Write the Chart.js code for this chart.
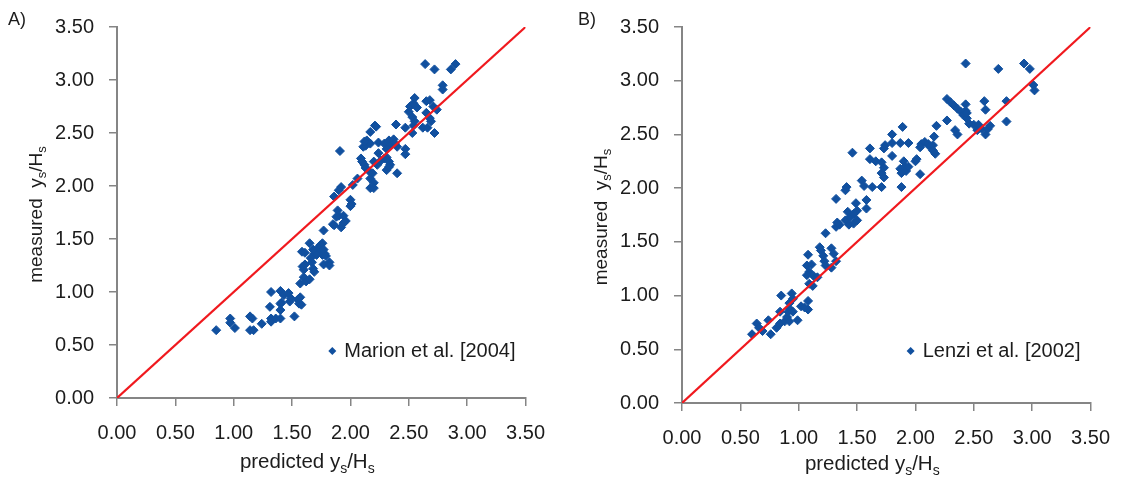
<!DOCTYPE html>
<html>
<head>
<meta charset="utf-8">
<script src="https://cdn.jsdelivr.net/npm/chart.js@4.4.1/dist/chart.umd.min.js"></script>
<style>
  body { margin: 0; background: #fff; }
  .panel { position: absolute; top: 0; }
</style>
</head>
<body>
<div class="panel" style="left:0"><canvas id="chartA" width="560" height="477"></canvas></div>
<div class="panel" style="left:560px"><canvas id="chartB" width="565" height="477"></canvas></div>
<script>
// axis ticks shared by both panels
const tickValues = [0, 0.5, 1, 1.5, 2, 2.5, 3, 3.5];

// 1:1 line
const lineX = [0, 3.5];
const lineY = [0, 3.5];

// A) Marion et al. [2004] - predicted / measured ys/Hs
const marionPred = [
  0.85, 0.97, 0.97, 1.01, 1.14, 1.16, 1.14, 1.17, 1.24, 1.32, 1.31, 1.32, 1.32, 1.36,
  1.40, 1.40, 1.40, 1.40, 1.41, 1.43, 1.47, 1.48, 1.49, 1.52, 1.55, 1.56, 1.57, 1.58,
  1.57, 1.585, 1.59, 1.60, 1.61, 1.60, 1.62, 1.65, 1.65, 1.66, 1.67, 1.68, 1.69, 1.69,
  1.72, 1.74, 1.75, 1.76, 1.77, 1.78, 1.76, 1.61, 1.68, 1.71, 1.77, 1.79, 1.82, 1.82,
  1.77, 1.89, 1.90, 1.94, 1.96, 1.88, 1.85, 1.86, 1.92, 1.94,
  2.00, 2.01, 2.00, 1.86, 1.92, 1.90, 2.02, 2.06, 1.91,
  2.09, 2.10, 2.12, 2.13, 2.16, 2.19, 2.17, 2.20, 2.17, 2.20,
  2.24, 2.20, 2.23, 2.26, 2.29, 2.31, 2.33, 2.34, 2.31, 2.33, 2.40,
  2.21, 2.17, 2.14, 2.13, 2.11, 2.17, 2.24, 2.29, 2.33, 2.37, 2.38, 2.34, 2.31, 2.40,
  2.47, 2.47, 2.39, 2.22, 2.12,
  2.47, 2.53, 2.54, 2.55, 2.53, 2.50, 2.51, 2.54, 2.55, 2.57,
  2.65, 2.68, 2.71, 2.74, 2.65, 2.68, 2.69, 2.62, 2.66, 2.72,
  2.79, 2.79, 2.64, 2.72, 2.86, 2.90
];
const marionMeas = [
  0.64, 0.75, 0.71, 0.66, 0.77, 0.75, 0.64, 0.64, 0.70, 1.00, 0.86, 0.75, 0.72, 0.75,
  1.01, 0.89, 0.83, 0.75, 0.90, 0.97, 0.99, 0.91, 0.94, 0.77, 0.93, 0.89, 0.95, 0.88,
  1.08, 1.38, 1.24, 1.21, 1.26, 1.14, 1.10, 1.46, 1.12, 1.32, 1.28, 1.22, 1.19, 1.36,
  1.41, 1.44, 1.38, 1.35, 1.26, 1.36, 1.46, 1.37, 1.40, 1.35, 1.40, 1.34, 1.28, 1.25,
  1.58, 1.77, 1.72, 1.72, 1.67, 1.71, 1.64, 1.63, 1.61, 1.65,
  1.87, 1.83, 1.81, 1.90, 1.99, 1.96, 2.01, 2.07, 2.33,
  2.26, 2.23, 2.20, 2.17, 2.14, 2.12, 2.07, 2.03, 1.98, 1.98,
  2.31, 2.23, 2.20, 2.24, 2.26, 2.27, 2.23, 2.20, 2.15, 2.18, 2.12,
  2.57, 2.51, 2.43, 2.38, 2.37, 2.40, 2.41, 2.40, 2.43, 2.44, 2.40, 2.38, 2.35, 2.37,
  2.35, 2.30, 2.58, 2.56, 2.42,
  2.55, 2.50, 2.57, 2.61, 2.65, 2.70, 2.75, 2.78, 2.83, 2.74,
  2.80, 2.81, 2.75, 2.72, 2.69, 2.64, 2.61, 2.55, 2.55, 2.50,
  2.95, 2.91, 3.15, 3.10, 3.10, 3.15
];

// B) Lenzi et al. [2002]
const lenziPred = [
  0.60, 0.64, 0.66, 0.69, 0.76, 0.74, 0.81, 0.84, 0.85, 0.84, 0.88, 0.90, 0.91, 0.92,
  0.94, 0.95, 0.92, 0.92, 0.95, 0.99, 1.02, 1.08, 1.08, 1.05, 1.08, 1.07, 1.09, 1.07,
  1.11, 1.09, 1.12, 1.13, 1.16, 1.18, 1.19, 1.21, 1.22, 1.23, 1.28, 1.30, 1.32, 1.28,
  1.23, 1.32, 1.35, 1.33, 1.40, 1.43, 1.42, 1.44, 1.47, 1.49, 1.50, 1.47, 1.50, 1.58,
  1.58, 1.32, 1.41, 1.40, 1.46, 1.54, 1.56, 1.61, 1.61, 1.66, 1.71, 1.73, 1.71, 1.73,
  1.71, 1.63, 1.74, 1.73, 1.80, 1.80, 1.87, 1.89, 1.94, 1.80, 1.90, 1.91, 1.92, 1.87,
  1.88, 1.94, 1.88, 2.00, 2.01, 2.04, 2.05, 2.08, 2.11, 2.04, 2.12, 2.15, 2.16, 2.18,
  2.15, 2.17, 2.27, 2.27, 2.30, 2.33, 2.36, 2.39, 2.41, 2.44, 2.43, 2.43, 2.44, 2.46,
  2.50, 2.53, 2.34, 2.36, 2.54, 2.57, 2.60, 2.62, 2.64, 2.59, 2.60, 2.78, 2.78, 2.43,
  2.71, 2.93, 2.98, 3.01, 3.02
];
const lenziMeas = [
  0.64, 0.74, 0.70, 0.67, 0.64, 0.77, 0.70, 0.74, 1.00, 0.85, 0.76, 0.80, 0.85, 0.76,
  1.02, 0.97, 0.93, 0.88, 0.85, 0.77, 0.90, 0.95, 0.87, 0.89, 1.38, 1.28, 1.22, 1.19,
  1.29, 1.11, 1.09, 1.18, 1.17, 1.45, 1.42, 1.37, 1.32, 1.28, 1.44, 1.39, 1.32, 1.26,
  1.58, 1.64, 1.66, 1.68, 1.70, 1.66, 1.78, 1.73, 1.67, 1.86, 1.79, 1.76, 1.70, 1.89,
  1.81, 1.90, 2.01, 1.98, 2.33, 2.07, 2.02, 2.37, 2.27, 2.25, 2.24, 2.19, 2.14, 2.10,
  2.01, 2.01, 2.40, 2.37, 2.42, 2.50, 2.42, 2.57, 2.42, 2.30, 2.25, 2.20, 2.16, 2.18,
  2.14, 2.20, 2.01, 2.25, 2.27, 2.13, 2.41, 2.43, 2.41, 2.38, 2.39, 2.40, 2.48, 2.58,
  2.35, 2.32, 2.63, 2.83, 2.80, 2.77, 2.74, 2.71, 2.68, 2.65, 2.78, 2.72, 2.70, 2.60,
  2.59, 2.54, 2.54, 2.50, 2.59, 2.55, 2.50, 2.55, 2.58, 2.81, 2.73, 2.81, 2.62, 3.16,
  3.11, 3.16, 3.11, 2.96, 2.91
];

const FONT = "'Liberation Sans', Arial, Helvetica, sans-serif";
const INK = '#1c1c1c';
const AXIS = '#858585';
const BLUE = '#11509f';
const RED = '#f0191e';

const toPoints = (xs, ys) => xs.map((x, i) => ({ x: x, y: ys[i] }));

// draws "text + subscript" pieces centred on (cx, cy), optionally rotated
function drawRich(ctx, parts, cx, cy, rot, size) {
  const subSize = Math.round(size * 0.68);
  let w = 0;
  parts.forEach(p => {
    ctx.font = (p.sub ? subSize : size) + 'px ' + FONT;
    p.w = ctx.measureText(p.t).width;
    w += p.w;
  });
  ctx.save();
  ctx.translate(cx, cy);
  ctx.rotate(rot);
  ctx.textAlign = 'left';
  ctx.textBaseline = 'alphabetic';
  let x = -w / 2;
  const base = size * 0.36;
  parts.forEach(p => {
    ctx.font = (p.sub ? subSize : size) + 'px ' + FONT;
    ctx.fillText(p.t, x, base + (p.sub ? size * 0.22 : 0));
    x += p.w;
  });
  ctx.restore();
}

const xTitle = [{ t: 'predicted y' }, { t: 's', sub: true }, { t: '/H' }, { t: 's', sub: true }];
const yTitle = [{ t: 'measured  y' }, { t: 's', sub: true }, { t: '/H' }, { t: 's', sub: true }];

const decorations = {
  id: 'decorations',
  afterDraw(chart, args, opts) {
    const { ctx, chartArea } = chart;
    ctx.save();
    ctx.fillStyle = INK;
    // panel letter
    ctx.font = '18px ' + FONT;
    ctx.textAlign = 'left';
    ctx.textBaseline = 'middle';
    ctx.fillText(opts.letter, opts.letterX, 20);
    // axis titles
    drawRich(ctx, xTitle, (chartArea.left + chartArea.right) / 2 - 14, Math.min(chartArea.bottom + 63, 463), 0, 20.5);
    drawRich(ctx, yTitle, chartArea.left - 82, (chartArea.top + chartArea.bottom) / 2 + 2, -Math.PI / 2, 19);
    // legend inside the plot
    const label = chart.data.datasets[1].label;
    ctx.font = '20px ' + FONT;
    const tw = ctx.measureText(label).width;
    const tx = chartArea.right - 10 - tw;
    const ty = 351;
    ctx.fillText(label, tx, ty);
    const mx = tx - 12, r = 4;
    ctx.fillStyle = BLUE;
    ctx.beginPath();
    ctx.moveTo(mx - r, ty);
    ctx.lineTo(mx, ty - r);
    ctx.lineTo(mx + r, ty);
    ctx.lineTo(mx, ty + r);
    ctx.closePath();
    ctx.fill();
    ctx.restore();
  }
};

function axisOptions(fit) {
  return {
    type: 'linear',
    min: 0,
    max: 3.5,
    afterBuildTicks: s => { s.ticks = tickValues.map(v => ({ value: v })); },
    afterFit: fit,
    grid: {
      display: true,
      drawOnChartArea: false,
      drawTicks: true,
      tickLength: 8,
      color: AXIS,
      lineWidth: 1.5
    },
    border: { display: true, color: AXIS, width: 2 },
    ticks: {
      padding: 15,
      color: INK,
      font: { family: FONT, size: 20 },
      callback: v => Number(v).toFixed(2)
    }
  };
}

function makePanel(id, box, letter, letterX, label, xs, ys) {
  new Chart(document.getElementById(id), {
    type: 'scatter',
    data: {
      datasets: [{
        label: '1:1',
        data: toPoints(lineX, lineY),
        showLine: true,
        borderColor: RED,
        borderWidth: 2.2,
        pointRadius: 0,
        order: 0
      }, {
        label: label,
        data: toPoints(xs, ys),
        pointStyle: 'rectRot',
        pointRadius: 4.5,
        borderWidth: 1,
        backgroundColor: BLUE,
        borderColor: BLUE,
        order: 1
      }]
    },
    options: {
      responsive: false,
      animation: false,
      layout: { padding: { top: box.top, right: box.width - box.right, left: 0, bottom: 0 } },
      plugins: {
        legend: { display: false },
        tooltip: { enabled: false },
        decorations: { letter: letter, letterX: letterX }
      },
      scales: {
        x: axisOptions(s => { s.height = 477 - box.bottom; }),
        y: axisOptions(s => { s.width = box.left; })
      }
    },
    plugins: [decorations]
  });
}

makePanel('chartA', { width: 560, left: 117, right: 530, top: 19, bottom: 398 },
  'A)', 8, 'Marion et al. [2004]', marionPred, marionMeas);
makePanel('chartB', { width: 565, left: 122, right: 537, top: 19, bottom: 403 },
  'B)', 18, 'Lenzi et al. [2002]', lenziPred, lenziMeas);
</script>
</body>
</html>
